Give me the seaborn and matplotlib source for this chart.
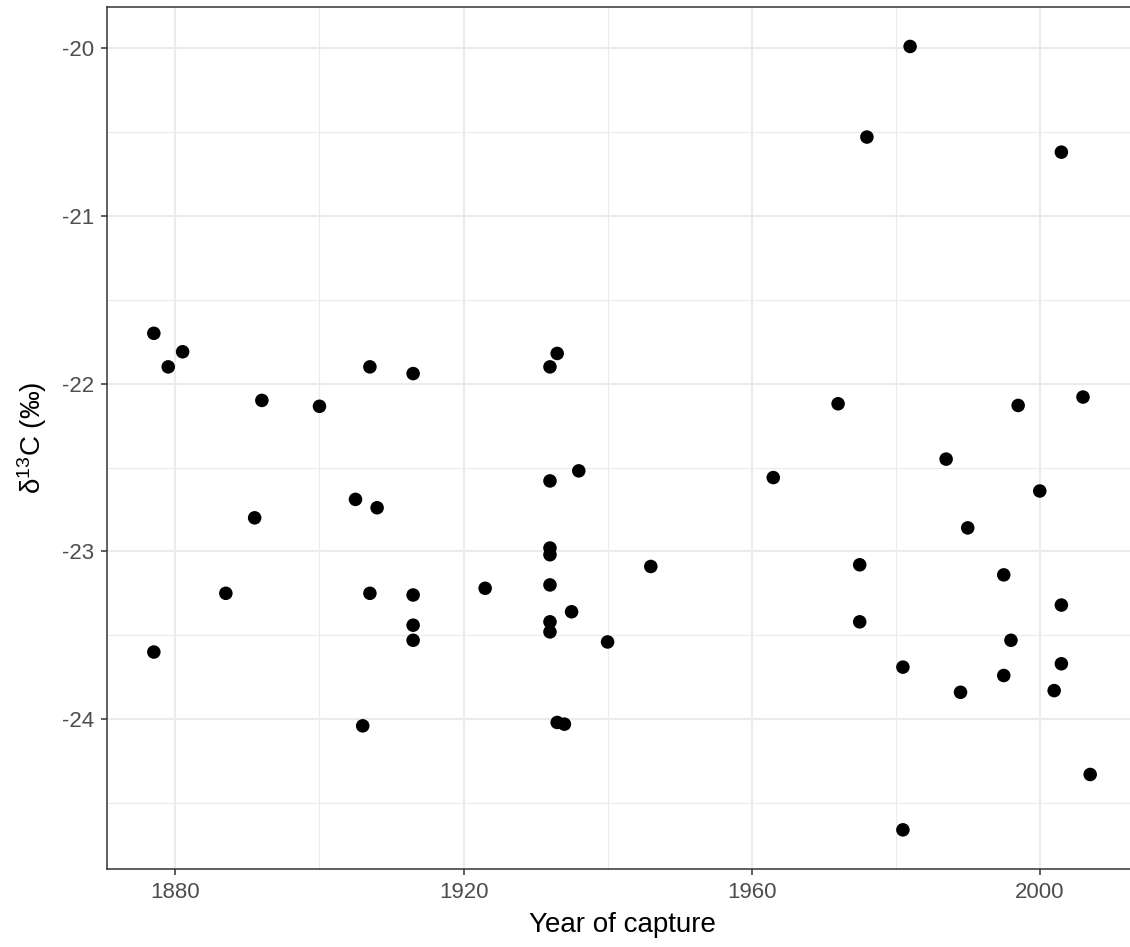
import seaborn as sns
import matplotlib
matplotlib.use("Agg")
import matplotlib.pyplot as plt
from matplotlib.ticker import MultipleLocator
import pandas as pd

# Year of capture for each specimen
years = [1877, 1881, 1879, 1907, 1913, 1892, 1900, 1905, 1908, 1891,
         1887, 1907, 1913, 1913, 1913, 1877, 1906,
         1933, 1932, 1936, 1932, 1932, 1932, 1946, 1923, 1932,
         1935, 1932, 1932, 1940, 1933, 1934,
         1982, 1976, 2003, 1972, 1997, 2006, 1987, 1963, 2000,
         1990, 1975, 1995, 2003, 1975, 1996, 1981, 2003, 1995,
         2002, 1989, 2007, 1981]

# delta 13C values (per mil)
d13c = [-21.70, -21.81, -21.90, -21.90, -21.94, -22.10, -22.135, -22.69, -22.74, -22.80,
        -23.25, -23.25, -23.26, -23.44, -23.53, -23.60, -24.04,
        -21.82, -21.90, -22.52, -22.58, -22.98, -23.02, -23.09, -23.22, -23.20,
        -23.36, -23.42, -23.48, -23.54, -24.02, -24.03,
        -19.99, -20.53, -20.62, -22.12, -22.13, -22.08, -22.45, -22.56, -22.64,
        -22.86, -23.08, -23.14, -23.32, -23.42, -23.53, -23.69, -23.67, -23.74,
        -23.83, -23.84, -24.33, -24.66]

df = pd.DataFrame({"year": years, "d13c": d13c})

sns.set_theme(style="whitegrid")
plt.rcParams['font.family'] = ['Liberation Sans', 'DejaVu Sans']
plt.rcParams['mathtext.fontset'] = 'custom'
plt.rcParams['mathtext.rm'] = 'Liberation Sans'
plt.rcParams['mathtext.it'] = 'Liberation Sans:italic'
plt.rcParams['axes.unicode_minus'] = False   # plain hyphen like the original

W, H = 1130, 947
fig = plt.figure(figsize=(W / 100, H / 100), dpi=100)
ax = fig.add_axes([107 / W, 1 - 869 / H, (1137 - 107) / W, (869 - 7.3) / H])

sns.scatterplot(data=df, x="year", y="d13c", ax=ax, color="black", s=95,
                edgecolor="none", zorder=3)

# ggplot-like expansion of the limits
xr = max(years) - min(years)
yr = max(d13c) - min(d13c)
ax.set_xlim(min(years) - 0.05 * xr, max(years) + 0.05 * xr)
ax.set_ylim(min(d13c) - 0.05 * yr, max(d13c) + 0.05 * yr)

ax.xaxis.set_major_locator(MultipleLocator(40))
ax.xaxis.set_minor_locator(MultipleLocator(20))
ax.yaxis.set_major_locator(MultipleLocator(1))
ax.yaxis.set_minor_locator(MultipleLocator(0.5))

ax.grid(which="major", color="#EBEBEB", linewidth=1.5)
ax.grid(which="minor", color="#EBEBEB", linewidth=0.8)
ax.set_axisbelow(True)

for sp in ax.spines.values():
    sp.set_color("#333333")
    sp.set_linewidth(1.1)

ax.tick_params(which="major", length=4.5, width=1.1, color="#333333",
               labelcolor="#4D4D4D", labelsize=16, pad=5,
               bottom=True, left=True)
ax.tick_params(which="minor", length=0)

ax.set_xlabel("Year of capture", fontsize=20, color="black", labelpad=6)
ax.set_ylabel("δ$^{13}$C (‰)", fontsize=20, color="black", labelpad=9)

fig.savefig("out.png", dpi=100)
